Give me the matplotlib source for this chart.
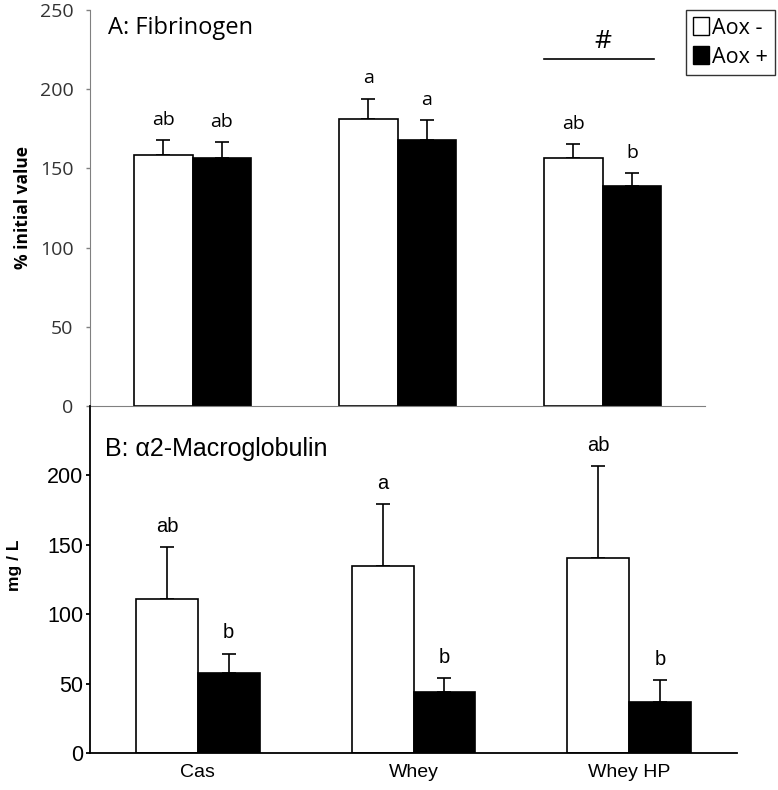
import numpy as np
import matplotlib
matplotlib.use('Agg')
import matplotlib.pyplot as plt
from matplotlib.patches import Patch

# 数据
groups = ['Cas', 'Whey', 'Whey HP']
series = ['Aox -', 'Aox +']

fib_minus = [158.7, 181.4, 156.8]
fib_minus_err = [9.0, 12.7, 8.8]
fib_plus = [156.8, 167.7, 139.1]
fib_plus_err = [9.7, 13.0, 7.8]
fib_minus_lab = ['ab', 'a', 'ab']
fib_plus_lab = ['ab', 'a', 'b']

mac_minus = [111.3, 135.0, 140.3]
mac_minus_err = [37.4, 44.7, 66.3]
mac_plus = [57.7, 44.0, 37.2]
mac_plus_err = [14.1, 10.3, 15.4]
mac_minus_lab = ['ab', 'a', 'ab']
mac_plus_lab = ['b', 'b', 'b']

fig = plt.figure(figsize=(7.78, 7.90), dpi=100)
x = np.arange(len(groups))
w = 0.287

# A: Fibrinogen
top_font = 'Open Sans'
ax1 = fig.add_axes([0.1157, 0.4861, 0.7905, 0.5013])
ax1.bar(x - w / 2, fib_minus, w, color='white', edgecolor='black', linewidth=1.2, zorder=2)
ax1.bar(x + w / 2, fib_plus, w, color='black', edgecolor='black', linewidth=1.2, zorder=2)
ax1.errorbar(x - w / 2, fib_minus, yerr=[np.zeros(3), fib_minus_err], fmt='none',
             ecolor='black', elinewidth=1.2, capsize=5, capthick=1.2, zorder=1)
ax1.errorbar(x + w / 2, fib_plus, yerr=[np.zeros(3), fib_plus_err], fmt='none',
             ecolor='black', elinewidth=1.2, capsize=5, capthick=1.2, zorder=1)
for i in range(len(groups)):
    ax1.annotate(fib_minus_lab[i], (x[i] - w / 2, fib_minus[i] + fib_minus_err[i]),
                 xytext=(0, 8), textcoords='offset points', ha='center', va='bottom',
                 fontsize=14, family=top_font)
    ax1.annotate(fib_plus_lab[i], (x[i] + w / 2, fib_plus[i] + fib_plus_err[i]),
                 xytext=(0, 8), textcoords='offset points', ha='center', va='bottom',
                 fontsize=14, family=top_font)
ax1.set_xlim(-0.5, 2.5)
ax1.set_ylim(0, 250)
ax1.set_yticks([0, 50, 100, 150, 200, 250])
ax1.set_xticks([])
for s in ['top', 'right']:
    ax1.spines[s].set_visible(False)
ax1.spines['left'].set_color('#808080')
ax1.spines['bottom'].set_color('#808080')
ax1.tick_params(axis='y', colors='#808080', labelcolor='#333333', labelsize=14,
                length=3, width=1, pad=9)
for t in ax1.get_yticklabels():
    t.set_family(top_font)
ax1.set_ylabel('% initial value', fontsize=12.5, fontweight='bold', family=top_font)
ax1.yaxis.set_label_coords(-0.094, 0.5)
ax1.text(0.03, 0.955, 'A: Fibrinogen', transform=ax1.transAxes, fontsize=17,
         family=top_font, va='center', ha='left')
# 显著性标记
ax1.plot([x[2] - w, x[2] + 0.25], [219, 219], color='black', linewidth=1.2, clip_on=False)
ax1.text(x[2], 222, '#', fontsize=19, ha='center', va='bottom', family=top_font)
# 图例
handles = [Patch(facecolor='white', edgecolor='black'), Patch(facecolor='black', edgecolor='black')]
leg = ax1.legend(handles, series, loc='upper left', bbox_to_anchor=(0.969, 1.0),
                 frameon=True, fancybox=False, edgecolor='black',
                 handlelength=0.7, handleheight=0.9, handletextpad=0.15, borderpad=0.35,
                 labelspacing=0.35, borderaxespad=0, prop={'family': top_font, 'size': 15.5})
leg.get_frame().set_linewidth(1.0)

# B: α2-Macroglobulin
bot_font = 'Liberation Sans'
ax2 = fig.add_axes([0.1157, 0.0465, 0.8316, 0.4396])
ax2.patch.set_alpha(0)
ax2.bar(x - w / 2, mac_minus, w, color='white', edgecolor='black', linewidth=1.2, zorder=2)
ax2.bar(x + w / 2, mac_plus, w, color='black', edgecolor='black', linewidth=1.2, zorder=2)
ax2.errorbar(x - w / 2, mac_minus, yerr=[np.zeros(3), mac_minus_err], fmt='none',
             ecolor='black', elinewidth=1.2, capsize=5, capthick=1.2, zorder=1)
ax2.errorbar(x + w / 2, mac_plus, yerr=[np.zeros(3), mac_plus_err], fmt='none',
             ecolor='black', elinewidth=1.2, capsize=5, capthick=1.2, zorder=1)
for i in range(len(groups)):
    ax2.annotate(mac_minus_lab[i], (x[i] - w / 2, mac_minus[i] + mac_minus_err[i]),
                 xytext=(0, 8), textcoords='offset points', ha='center', va='bottom',
                 fontsize=14.5, family=bot_font)
    ax2.annotate(mac_plus_lab[i], (x[i] + w / 2, mac_plus[i] + mac_plus_err[i]),
                 xytext=(0, 8), textcoords='offset points', ha='center', va='bottom',
                 fontsize=14.5, family=bot_font)
ax2.set_xlim(-0.5, 2.5)
ax2.set_ylim(0, 250)
ax2.set_yticks([0, 50, 100, 150, 200])
ax2.set_xticks(x)
ax2.set_xticklabels(groups, family=bot_font, fontsize=14)
ax2.tick_params(axis='x', length=0, pad=8)
for s in ['top', 'right']:
    ax2.spines[s].set_visible(False)
ax2.spines['left'].set_linewidth(1.3)
ax2.spines['bottom'].set_linewidth(1.3)
ax2.tick_params(axis='y', labelsize=15.5, length=3, width=1.3, pad=2)
for t in ax2.get_yticklabels():
    t.set_family(bot_font)
ax2.set_ylabel('mg / L', fontsize=12.5, fontweight='bold', family=bot_font)
ax2.yaxis.set_label_coords(-0.105, 0.54)
ax2.text(0.023, 0.875, 'B: α2-Macroglobulin', transform=ax2.transAxes, fontsize=18,
         family=bot_font, va='center', ha='left')

plt.savefig('out.png', dpi=100)
